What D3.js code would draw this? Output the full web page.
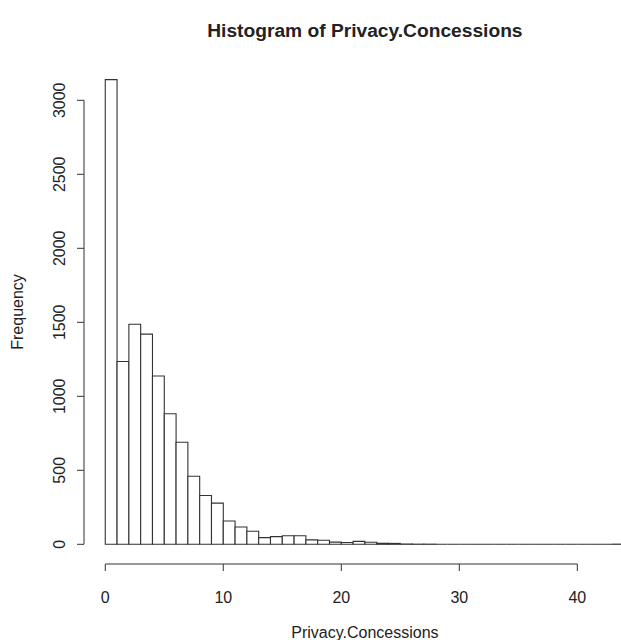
<!DOCTYPE html>
<html>
<head>
<meta charset="utf-8">
<script src="https://cdn.jsdelivr.net/npm/d3@7"></script>
<style>
  body { margin: 0; background: #fff; }
  text { font-family: "Liberation Sans", Arial, sans-serif; fill: #222; }
</style>
</head>
<body>
<script>
// Histogram counts, one bin per unit from 0 to 44
const binStart = d3.range(0, 44);
const counts = [3140, 1235, 1487, 1420, 1137, 882, 690, 460, 330, 278,
                157, 117, 88, 45, 52, 58, 58, 30, 27, 15,
                12, 20, 14, 7, 6, 2, 1, 1, 0, 0,
                0, 0, 0, 0, 0, 0, 0, 0, 0, 0,
                0, 0, 0, 1];
const xTicks = [0, 10, 20, 30, 40];
const yTicks = [0, 500, 1000, 1500, 2000, 2500, 3000];

const width = 621, height = 640;

const svg = d3.select("body").append("svg")
    .attr("width", width)
    .attr("height", height);

// scales (R style: 4% padding around the data range)
const x = d3.scaleLinear().domain([-1.76, 45.76]).range([84.5, 645.3]);
const y = d3.scaleLinear().domain([0, 3000]).range([544.3, 100.3]);

// bars drawn as closed paths so empty bins still leave a line on the baseline
svg.selectAll(".bar")
    .data(binStart)
    .enter().append("path")
    .attr("class", "bar")
    .attr("d", (d, i) => {
        const p = d3.path();
        p.rect(x(d), y(counts[i]), x(d + 1) - x(d), y(0) - y(counts[i]));
        return p.toString();
    })
    .attr("fill", "#fff")
    .attr("stroke", "#333")
    .attr("stroke-width", 1.1);

// x axis
const xAxis = svg.append("g").attr("transform", "translate(0,564)");
xAxis.append("line")
    .attr("x1", x(0)).attr("x2", x(40))
    .attr("stroke", "#333");
xAxis.selectAll(".xt").data(xTicks).enter().append("line")
    .attr("x1", d => x(d)).attr("x2", d => x(d))
    .attr("y1", 0).attr("y2", 7)
    .attr("stroke", "#333");
xAxis.selectAll(".xl").data(xTicks).enter().append("text")
    .attr("x", d => x(d))
    .attr("y", 39)
    .attr("text-anchor", "middle")
    .style("font-size", "16px")
    .text(d => d);

// y axis
const yAxis = svg.append("g").attr("transform", "translate(84,0)");
yAxis.append("line")
    .attr("y1", y(0)).attr("y2", y(3000))
    .attr("stroke", "#333");
yAxis.selectAll(".yt").data(yTicks).enter().append("line")
    .attr("x1", 0).attr("x2", -7)
    .attr("y1", d => y(d)).attr("y2", d => y(d))
    .attr("stroke", "#333");
yAxis.selectAll(".yl").data(yTicks).enter().append("text")
    .attr("transform", d => "translate(-19," + y(d) + ") rotate(-90)")
    .attr("text-anchor", "middle")
    .style("font-size", "16px")
    .text(d => d);

// titles
svg.append("text")
    .attr("x", x(22)).attr("y", 37)
    .attr("text-anchor", "middle")
    .style("font-size", "19.2px")
    .style("font-weight", "bold")
    .text("Histogram of Privacy.Concessions");

svg.append("text")
    .attr("x", x(22)).attr("y", 638)
    .attr("text-anchor", "middle")
    .style("font-size", "16px")
    .text("Privacy.Concessions");

svg.append("text")
    .attr("transform", "translate(23," + y(1570) + ") rotate(-90)")
    .attr("text-anchor", "middle")
    .style("font-size", "16px")
    .text("Frequency");
</script>
</body>
</html>
